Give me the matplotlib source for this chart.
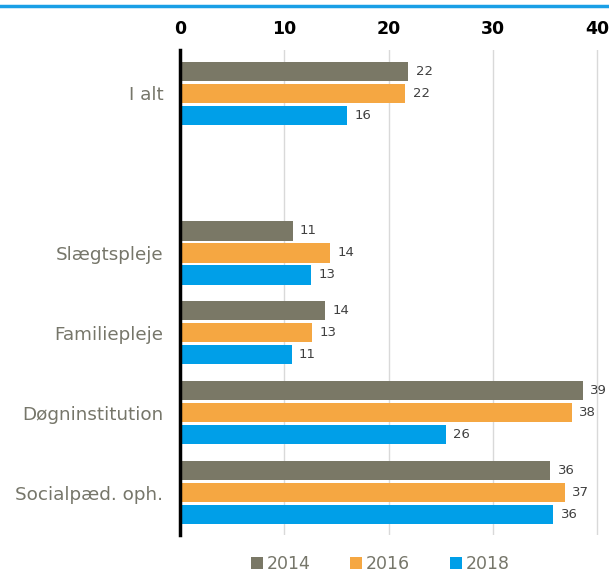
import matplotlib
matplotlib.use("Agg")
import matplotlib.pyplot as plt
import numpy as np
from matplotlib.lines import Line2D

categories = ["I alt", "", "Slægtspleje", "Familiepleje", "Døgninstitution", "Socialpæd. oph."]
years = ["2014", "2016", "2018"]
v2014 = [21.9, np.nan, 10.8, 13.9, 38.6, 35.5]
v2016 = [21.6, np.nan, 14.4, 12.7, 37.6, 36.9]
v2018 = [16.0, np.nan, 12.6, 10.7, 25.5, 35.8]
colors = ["#7a7866", "#f5a742", "#009fe8"]
ticks = [0, 10, 20, 30, 40]

fig = plt.figure(figsize=(6.09, 5.74), dpi=100)
ax = fig.add_axes([180/609, 1-535/574, 0.9977-180/609, (535-50)/574])

y = np.arange(len(categories))
h = 0.24
pitch = 0.275
for i, (vals, c, yr) in enumerate(zip([v2014, v2016, v2018], colors, years)):
    pos = y + (i-1)*pitch
    ax.barh(pos, vals, height=h, color=c, label=yr)
    for p, v in zip(pos, vals):
        if not np.isnan(v):
            ax.text(v + 0.7, p, f"{v:.0f}", va="center", ha="left", fontsize=9.5, color="#404040")

ax.set_xlim(0, 41)
ax.set_ylim(len(categories)-0.47, -0.54)
ax.set_yticks(y)
ax.set_yticklabels(categories, fontsize=13.2, color="#76766a")
ax.set_xticks(ticks)
ax.set_xticklabels([str(t) for t in ticks], fontsize=12.5, fontweight="bold", color="black")
ax.xaxis.tick_top()
ax.tick_params(axis="y", length=0, pad=12)
ax.tick_params(axis="x", length=0, pad=8.5)
for s in ["top", "right", "bottom"]:
    ax.spines[s].set_visible(False)
ax.spines["left"].set_linewidth(2.5)
ax.spines["left"].set_color("black")
ax.grid(axis="x", color="#d9d9d9", linewidth=1)
ax.set_axisbelow(True)

fig.add_artist(Line2D([0, 1], [1-6/574, 1-6/574], color="#1a9fe6", linewidth=2.5, transform=fig.transFigure))

leg = fig.legend(loc="center", bbox_to_anchor=(380/609, 1-564/574), ncol=3, frameon=False,
                 fontsize=12.5, handlelength=0.7, handleheight=0.7, handletextpad=0.2, columnspacing=2.3,
                 borderpad=0.2)
for t in leg.get_texts():
    t.set_color("#76766a")

fig.savefig("out.png", dpi=100)
